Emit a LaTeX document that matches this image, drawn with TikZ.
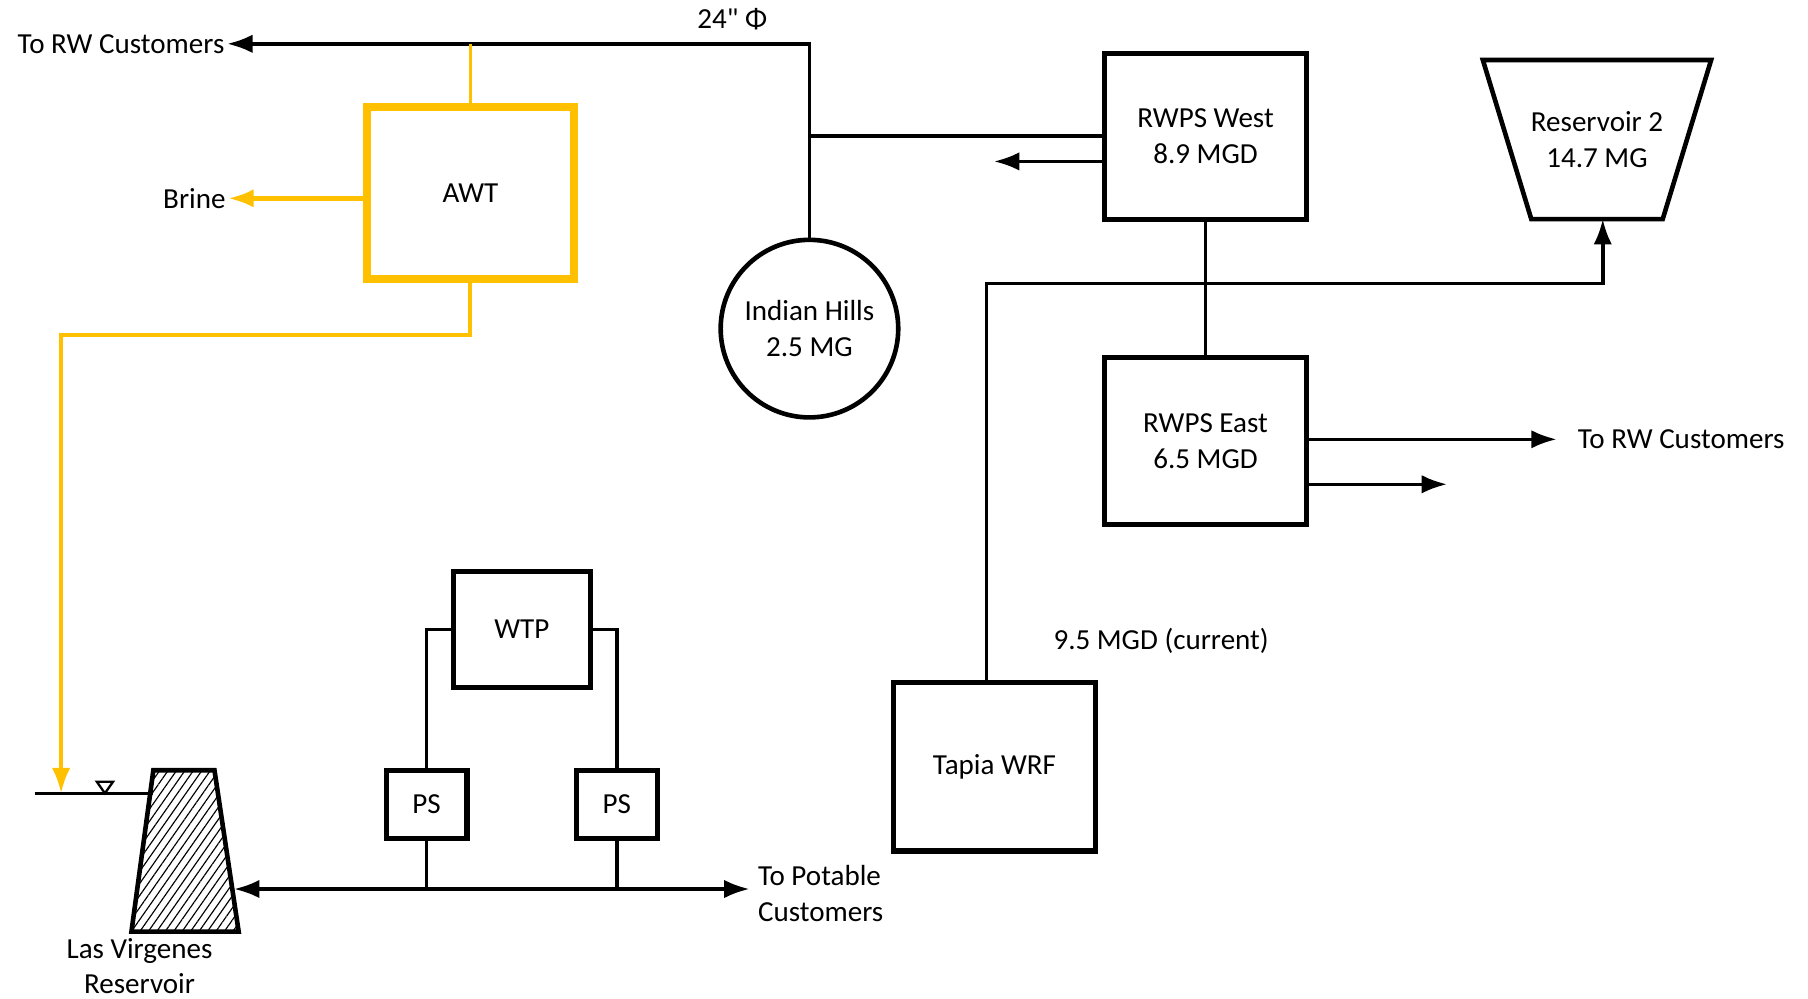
\documentclass[tikz,border=0pt]{standalone}
\usepackage{fontspec}
\setmainfont{Carlito}
\newfontfamily\rawfont{Carlito}[Ligatures=TeXOff]
\usetikzlibrary{arrows.meta,positioning,calc,patterns.meta}
\definecolor{awtgold}{HTML}{FFC000}
\newcommand{\lblfont}{\fontsize{12.6}{15.3}\selectfont}
\tikzset{
  >={Latex[length=11pt,width=8pt]},
  plant/.style={draw, line width=2.2pt, fill=white, align=center,
                font=\lblfont, inner sep=0pt},
  awtbox/.style={plant, draw=awtgold, line width=3.6pt},
  tank/.style={plant, circle, minimum size=77pt, line width=2pt},
  basin/.style={draw, line width=2pt, line join=miter},
  dam/.style={draw, line width=2pt,
              pattern={Lines[angle=55, distance=3pt, line width=0.5pt]}},
  pipe/.style={draw, line width=1.5pt},
  gpipe/.style={draw=awtgold, line width=1.7pt},
  gthin/.style={draw=awtgold, line width=1pt},
  plabel/.style={font=\lblfont, inner sep=1pt, align=left},
}
\begin{document}
\begin{tikzpicture}[x=0.5pt, y=-0.5pt]
  \useasboundingbox (0,0) rectangle (1568,866);

  % --- plants and storage ---
  \node[awtbox, minimum width=90pt, minimum height=74.5pt] (awt) at (408,167.5) {AWT};
  \node[tank] (ihills) at (702,285) {Indian Hills\\2.5 MG};
  \node[plant, minimum width=87.5pt, minimum height=72pt] (rwpsW) at (1045.5,118) {RWPS West\\8.9 MGD};
  \node[plant, minimum width=87.5pt, minimum height=72.5pt] (rwpsE) at (1045.5,382.5) {RWPS East\\6.5 MGD};
  \node[plant, minimum width=87.5pt, minimum height=73pt] (tapia) at (862.5,665) {Tapia WRF};
  \node[plant, minimum width=59.5pt, minimum height=50pt] (wtp) at (452.5,546) {WTP};
  \node[plant, minimum width=35pt, minimum height=29.5pt] (psL) at (370,697.5) {PS};
  \node[plant, minimum width=35pt, minimum height=29.5pt] (psR) at (535,697.5) {PS};

  % reservoirs drawn as outlines
  \draw[basin] (1286,52) -- (1484,52) -- (1442,190) -- (1328,190) -- cycle;
  \node[plabel, align=center] (res2) at (1385,121) {Reservoir 2\\14.7 MG};
  \coordinate (res2in) at (1390,190);
  \draw[dam] (133,668) -- (186,668) -- (207,808) -- (114,808) -- cycle;
  \coordinate (lvtop) at (133,688);
  \coordinate (lvside) at (203,771);

  % --- labels ---
  \node[plabel, anchor=east] (torwW) at (197,38) {To RW Customers};
  \node[plabel, anchor=east] (brine) at (198,172) {Brine};
  \node[plabel] (pipesize) at (635,17) {{\rawfont 24"} Φ};
  \node[plabel, anchor=west] (torwE) at (1366,381) {To RW Customers};
  \node[plabel] (tapiaflow) at (1007,556) {9.5 MGD (current)};
  \node[plabel, anchor=west] (topot) at (655,775) {To Potable\\Customers};
  \node[plabel, align=center] (lvlabel) at (121,838) {Las Virgenes\\Reservoir};

  \coordinate (westout) at (862,140);
  \coordinate (eastout1) at (1350,381);
  \coordinate (eastout2) at (1255,420);
  \coordinate (potout) at (650,771);
  \coordinate (wl) at (30,688);
  \coordinate (lvin) at (53,688);

  % --- recycled water ---
  \draw[pipe, ->] (ihills.north) |- (torwW.east);
  \draw[pipe] (rwpsW.west) -- (ihills.north |- rwpsW.west);
  \draw[pipe, ->] (rwpsW.west |- westout) -- (westout);
  \draw[pipe] (rwpsW.south) -- (rwpsE.north);
  \draw[pipe, ->] ([xshift=-3.5pt]tapia.north) -- ++(0,-344) -| (res2in);
  \draw[pipe, ->] (rwpsE.east |- eastout1) -- (eastout1);
  \draw[pipe, ->] (rwpsE.east |- eastout2) -- (eastout2);

  % --- advanced treatment ---
  \draw[gthin] (awt.north) -- (awt.north |- torwW.east);
  \draw[gpipe, line width=2pt, ->] (awt.west |- brine.east) -- (brine.east);
  \draw[gpipe, ->] (awt.south) -- ++(0,45) -| (lvin);

  % --- potable side ---
  \draw[line width=1.2pt] (wl) -- (lvtop);
  \draw[line width=1pt] (84,678) -- (98,678) -- (91,688) -- cycle;
  \draw[pipe, <->] (lvside) -- (potout);
  \draw[pipe] (wtp.west) -| (psL.north);
  \draw[pipe] (wtp.east) -| (psR.north);
  \draw[pipe] (psL.south) -- (psL.south |- potout);
  \draw[pipe] (psR.south) -- (psR.south |- potout);
\end{tikzpicture}
\end{document}
